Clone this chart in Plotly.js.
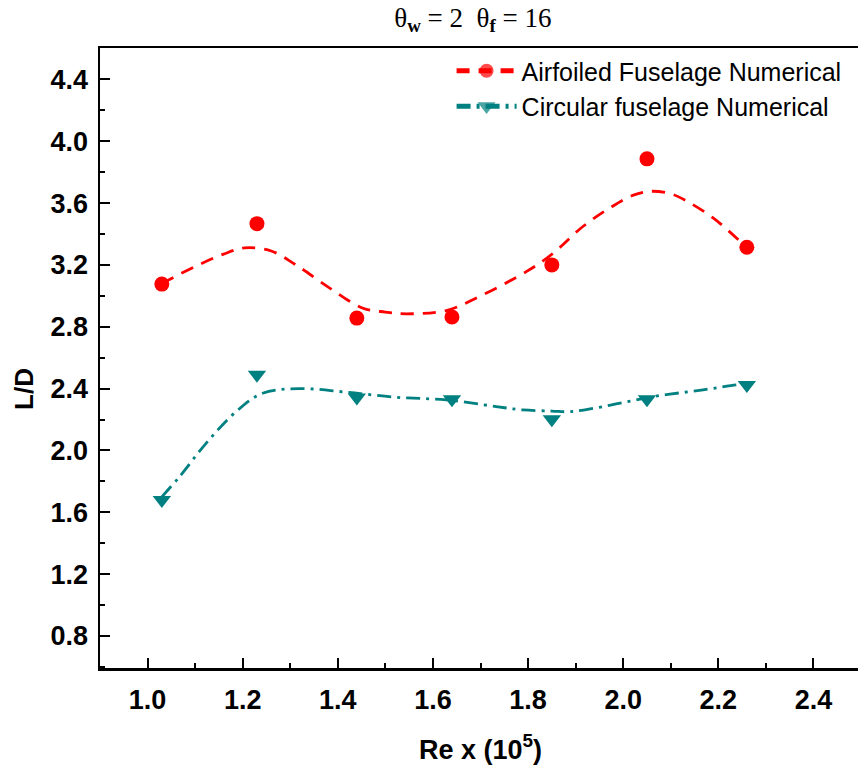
<!DOCTYPE html>
<html>
<head>
<meta charset="utf-8">
<script src="https://cdn.plot.ly/plotly-3.0.1.min.js"></script>
<style>
html,body{margin:0;padding:0;overflow:hidden;background:#fff;}
#chart{width:862px;height:776px;}
</style>
</head>
<body>
<div id="chart"></div>
<script>
// Measured data points
var reX = [1.03, 1.23, 1.44, 1.64, 1.85, 2.05, 2.26];
var airfoiledLD = [3.076, 3.467, 2.856, 2.863, 3.20, 3.886, 3.314];
var circularLD = [1.679, 2.489, 2.342, 2.331, 2.202, 2.331, 2.424];

// Fitted curves
var airfoiledFitX = [1.03, 1.10, 1.16, 1.204, 1.26, 1.312, 1.383, 1.453, 1.50, 1.544, 1.628, 1.698, 1.797, 1.849, 1.916, 1.972, 2.02, 2.057, 2.10, 2.134, 2.189, 2.246, 2.26];
var airfoiledFitY = [3.08, 3.19, 3.27, 3.31, 3.29, 3.20, 3.05, 2.92, 2.895, 2.884, 2.905, 2.996, 3.158, 3.266, 3.45, 3.569, 3.65, 3.676, 3.66, 3.612, 3.504, 3.352, 3.31];
var circularFitX = [1.03, 1.067, 1.123, 1.186, 1.242, 1.319, 1.418, 1.523, 1.628, 1.733, 1.789, 1.85, 1.888, 1.958, 2.063, 2.168, 2.239, 2.26];
var circularFitY = [1.70, 1.83, 2.046, 2.251, 2.37, 2.40, 2.377, 2.344, 2.327, 2.284, 2.262, 2.255, 2.251, 2.284, 2.348, 2.392, 2.424, 2.43];

var xTicks = [1.0, 1.2, 1.4, 1.6, 1.8, 2.0, 2.2, 2.4];
var yTicks = [0.8, 1.2, 1.6, 2.0, 2.4, 2.8, 3.2, 3.6, 4.0, 4.4];

var red = '#ff0000';
var teal = '#008080';

function tiny(n){ var a=[]; for(var i=0;i<n;i++) a.push(0.01); return a; }

var traces = [
  {
    x: airfoiledFitX, y: airfoiledFitY, type: 'scatter', mode: 'lines+markers',
    name: 'Airfoiled Fuselage Numerical',
    line: {color: red, width: 2.8, dash: '13px,9px', shape: 'spline', smoothing: 1},
    marker: {color: red, symbol: 'circle', size: tiny(airfoiledFitX.length),
             line: {color: red, width: tiny(airfoiledFitX.length)}},
    hoverinfo: 'skip'
  },
  {
    x: circularFitX, y: circularFitY, type: 'scatter', mode: 'lines+markers',
    name: 'Circular fuselage Numerical',
    line: {color: teal, width: 2.8, dash: '14px,6px,3px,6px', shape: 'spline', smoothing: 1},
    marker: {color: teal, symbol: 'triangle-down', size: tiny(circularFitX.length),
             line: {color: teal, width: tiny(circularFitX.length)}},
    hoverinfo: 'skip'
  },
  {
    x: reX, y: airfoiledLD, type: 'scatter', mode: 'markers', showlegend: false,
    marker: {color: red, symbol: 'circle', size: 15}
  },
  {
    x: reX, y: circularLD, type: 'scatter', mode: 'markers', showlegend: false,
    marker: {color: teal, symbol: 'triangle-down', size: 16}
  }
];

var sans = 'Liberation Sans, Arial, sans-serif';
var tickFont = {family: sans, size: 27, color: '#000', weight: 'bold'};

var layout = {
  width: 862, height: 776,
  margin: {l: 100, r: 1, t: 48, b: 108},
  paper_bgcolor: '#fff', plot_bgcolor: '#fff',
  title: {
    text: 'θ<sub><b>w</b></sub> = 2  θ<sub><b>f</b></sub> = 16',
    font: {family: 'Liberation Serif, Times New Roman, serif', size: 27, color: '#000'},
    xref: 'paper', x: 0.49, xanchor: 'center', yref: 'container', y: 0.99, yanchor: 'top'
  },
  xaxis: {
    range: [0.9, 2.5],
    tickvals: xTicks, ticktext: xTicks.map(function(v){return v.toFixed(1);}),
    ticks: 'inside', ticklen: 10, tickwidth: 2, tickcolor: '#000',
    minor: {dtick: 0.1, tick0: 0.9, ticks: 'inside', ticklen: 5, tickwidth: 2, tickcolor: '#000'},
    showline: true, linecolor: '#000', linewidth: 2.5, mirror: true,
    showgrid: false, zeroline: false,
    tickfont: tickFont, ticklabelstandoff: 6,
    title: {text: '<b>Re x (10<sup>5</sup>)</b>', font: {family: sans, size: 27, color: '#000'}, standoff: 26}
  },
  yaxis: {
    range: [0.593, 4.603],
    tickvals: yTicks, ticktext: yTicks.map(function(v){return v.toFixed(1);}),
    ticks: 'inside', ticklen: 10, tickwidth: 2, tickcolor: '#000',
    minor: {dtick: 0.2, tick0: 0.6, ticks: 'inside', ticklen: 5, tickwidth: 2, tickcolor: '#000'},
    showline: true, linecolor: '#000', linewidth: 2.5, mirror: false,
    showgrid: false, zeroline: false,
    tickfont: tickFont, ticklabelstandoff: 4
  },
  annotations: [{
    text: '<b>L/D</b>', xref: 'paper', yref: 'paper', x: -0.1, y: 0.45,
    xanchor: 'center', yanchor: 'middle', textangle: -90, showarrow: false,
    font: {family: sans, size: 26, color: '#000'}
  }],
  legend: {
    x: 0.462, xanchor: 'left', y: 1.0, yanchor: 'top',
    bgcolor: 'rgba(0,0,0,0)', borderwidth: 0,
    itemwidth: 60, itemsizing: 'constant', tracegroupgap: 0,
    font: {family: sans, size: 25, color: '#000'}
  },
  showlegend: true
};

Plotly.newPlot('chart', traces, layout, {displayModeBar: false, staticPlot: true});
</script>
</body>
</html>
